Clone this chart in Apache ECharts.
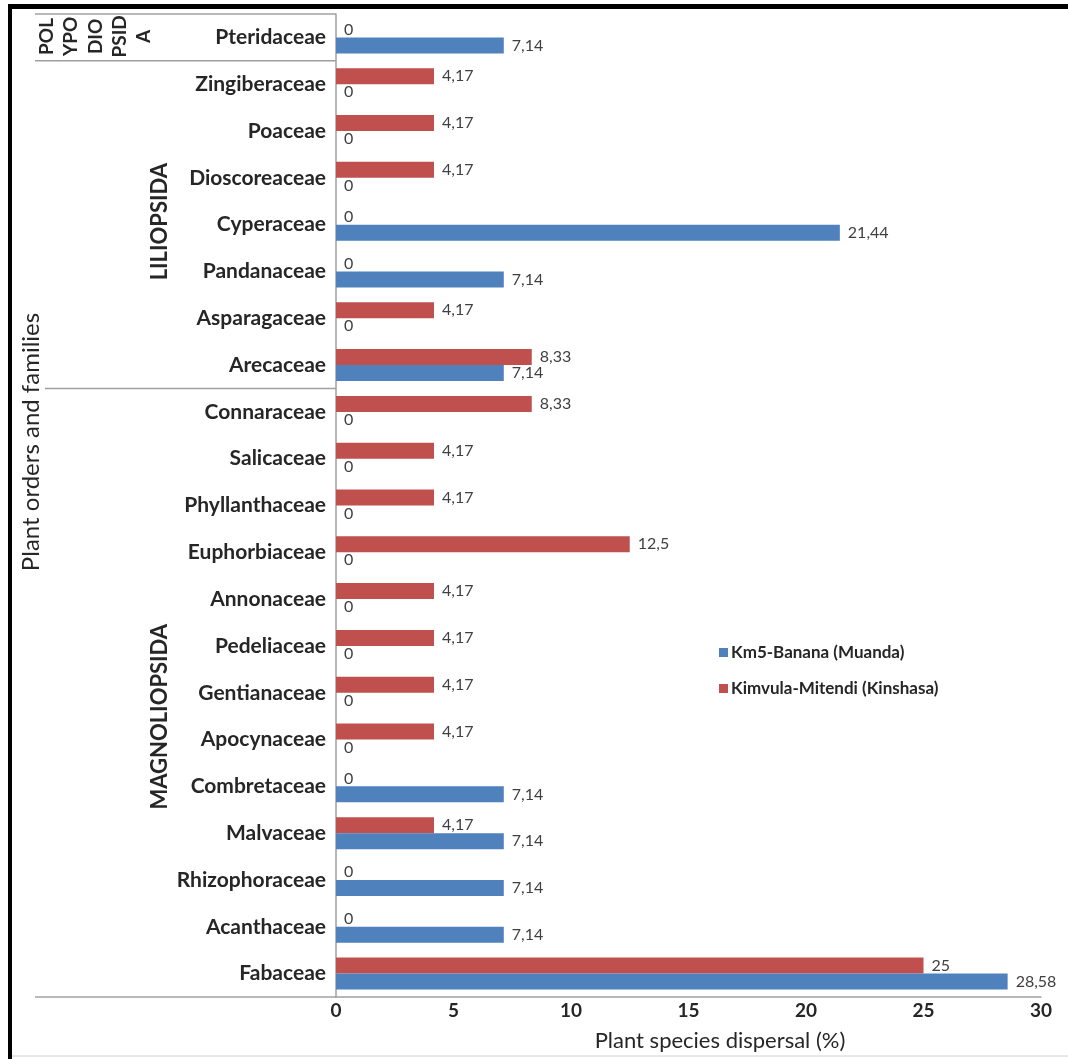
<!DOCTYPE html>
<html>
<head>
<meta charset="utf-8">
<script src="https://cdn.jsdelivr.net/npm/echarts@6/dist/echarts.min.js"></script>
<style>
  html, body { margin: 0; padding: 0; background: #fff; }
  #chart { width: 1068px; height: 1059px; }
</style>
</head>
<body>
<div id="chart"></div>
<script>
// Plant families, listed top to bottom
const families = [
  'Pteridaceae', 'Zingiberaceae', 'Poaceae', 'Dioscoreaceae', 'Cyperaceae',
  'Pandanaceae', 'Asparagaceae', 'Arecaceae', 'Connaraceae', 'Salicaceae',
  'Phyllanthaceae', 'Euphorbiaceae', 'Annonaceae', 'Pedeliaceae', 'Gentianaceae',
  'Apocynaceae', 'Combretaceae', 'Malvaceae', 'Rhizophoraceae', 'Acanthaceae', 'Fabaceae'
];
// Share of species dispersal (%) per site
const kimvula = [0, 4.17, 4.17, 4.17, 0, 0, 4.17, 8.33, 8.33, 4.17, 4.17, 12.5, 4.17, 4.17, 4.17, 4.17, 0, 4.17, 0, 0, 25];
const km5 = [7.14, 0, 0, 0, 21.44, 7.14, 0, 7.14, 0, 0, 0, 0, 0, 0, 0, 0, 7.14, 7.14, 7.14, 7.14, 28.58];
const seriesNames = ['Km5-Banana (Muanda)', 'Kimvula-Mitendi (Kinshasa)'];
const xTicks = [0, 5, 10, 15, 20, 25, 30];
const xTitle = 'Plant species dispersal (%)';
const yTitle = 'Plant orders and families';

// Class groupings: label, first family, last family
const classGroups = [
  { lines: ['POL', 'YPO', 'DIO', 'PSID', 'A'], from: 'Pteridaceae', to: 'Pteridaceae' },
  { lines: ['LILIOPSIDA'], from: 'Zingiberaceae', to: 'Arecaceae' },
  { lines: ['MAGNOLIOPSIDA'], from: 'Connaraceae', to: 'Fabaceae' }
];

const FONT = 'Lato, "Open Sans", sans-serif';
const INK = '#262626';
const BLUE = '#4f81bd';
const RED = '#c0504d';
const GRID = { left: 336, right: 27, top: 14, bottom: 62 };
// vertical nudge of each class label from the middle of its group (px)
const GROUP_SHIFT = [-1, -3, 24];

const chart = echarts.init(document.getElementById('chart'), null, { renderer: 'canvas' });

const fmt = p => String(p.value).replace('.', ',');
const labelStyle = {
  show: true, position: 'right', distance: 8, formatter: fmt,
  color: '#404040', fontSize: 16, fontFamily: FONT
};

chart.setOption({
  animation: false,
  backgroundColor: '#fff',
  textStyle: { fontFamily: FONT },
  grid: GRID,
  legend: {
    orient: 'vertical',
    left: 714, top: 639,
    itemWidth: 9, itemHeight: 9, itemGap: 19,
    icon: 'rect',
    data: seriesNames,
    textStyle: { fontSize: 17, fontWeight: 'bold', color: INK, fontFamily: FONT, padding: [0, 0, 0, -2] }
  },
  xAxis: {
    type: 'value', min: 0, max: 30, interval: 5,
    axisLine: { show: true, lineStyle: { color: '#a0a0a0', width: 1.5 } },
    axisTick: { show: false },
    splitLine: { show: false },
    axisLabel: {
      fontSize: 19, fontWeight: 'bold', color: INK, margin: 4,
      formatter: v => xTicks.includes(v) ? String(v) : ''
    }
  },
  yAxis: {
    type: 'category', inverse: true, data: families,
    axisLine: { show: true, lineStyle: { color: '#a0a0a0', width: 1.5 } },
    axisTick: { show: false },
    axisLabel: { fontSize: 21, fontWeight: 'bold', color: INK, margin: 10 }
  },
  series: [
    {
      name: seriesNames[1], type: 'bar', data: kimvula,
      barWidth: 16, barGap: '0%',
      itemStyle: { color: RED },
      label: labelStyle
    },
    {
      name: seriesNames[0], type: 'bar', data: km5,
      barWidth: 16, barGap: '0%',
      itemStyle: { color: BLUE },
      label: labelStyle
    }
  ]
});

// Frame, axis titles, class dividers and class labels placed from the category scale
function drawDecor() {
  const yOf = name => chart.convertToPixel({ yAxisIndex: 0 }, name);
  const band = yOf(families[1]) - yOf(families[0]);
  const top = yOf(families[0]) - band / 2;
  const bottom = yOf(families[families.length - 1]) + band / 2;
  const axisX = chart.convertToPixel({ xAxisIndex: 0 }, 0);
  const lineStyle = { stroke: '#a0a0a0', lineWidth: 1.5 };
  const els = [];

  // outer frame strokes
  els.push({ type: 'rect', shape: { x: 8, y: 4, width: 1068 - 8, height: 5 }, style: { fill: '#000' }, silent: true });
  els.push({ type: 'rect', shape: { x: 8, y: 4, width: 4, height: 1059 - 4 }, style: { fill: '#000' }, silent: true });
  els.push({ type: 'line', shape: { x1: 12, y1: 1056, x2: 1068, y2: 1056 }, style: { stroke: '#d0d0d0', lineWidth: 1 }, silent: true });

  // axis titles
  els.push({
    type: 'text', x: 720, y: 1041, silent: true,
    style: { text: xTitle, fontSize: 22, fill: INK, fontFamily: FONT, align: 'center', verticalAlign: 'middle' }
  });
  els.push({
    type: 'text', x: 31, y: 442, rotation: Math.PI / 2, silent: true,
    style: { text: yTitle, fontSize: 24, fill: INK, fontFamily: FONT, align: 'center', verticalAlign: 'middle' }
  });

  // label box: top edge, group dividers, bottom extension
  els.push({ type: 'line', shape: { x1: 35, y1: top, x2: axisX, y2: top }, style: lineStyle, silent: true });
  els.push({ type: 'line', shape: { x1: 35, y1: bottom, x2: axisX, y2: bottom }, style: lineStyle, silent: true });

  classGroups.forEach((g, gi) => {
    const y0 = yOf(g.from) - band / 2;
    const y1 = yOf(g.to) + band / 2;
    if (gi > 0) {
      els.push({ type: 'line', shape: { x1: gi === 1 ? 35 : 45, y1: y0, x2: axisX, y2: y0 }, style: lineStyle, silent: true });
    }
    const cy = (y0 + y1) / 2 + GROUP_SHIFT[gi];
    if (g.lines.length > 1) {
      g.lines.forEach((t, i) => {
        els.push({
          type: 'text', x: 47 + i * 24.3, y: cy, rotation: Math.PI / 2, silent: true,
          style: { text: t, fontSize: 19, fontWeight: 'bold', fill: INK, fontFamily: FONT, align: 'center', verticalAlign: 'middle' }
        });
      });
    } else {
      els.push({
        type: 'text', x: 160, y: cy, rotation: Math.PI / 2, silent: true,
        style: { text: g.lines[0], fontSize: 22, fontWeight: 'bold', fill: INK, fontFamily: FONT, align: 'center', verticalAlign: 'middle' }
      });
    }
  });

  chart.setOption({ graphic: { elements: els } });
}
drawDecor();
</script>
</body>
</html>
